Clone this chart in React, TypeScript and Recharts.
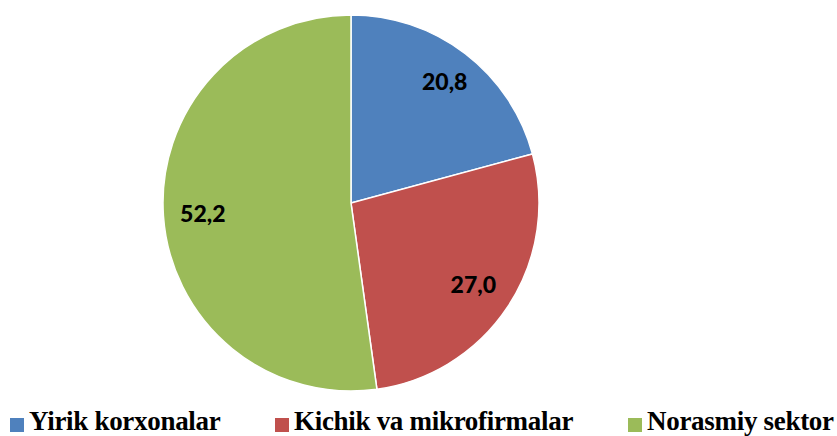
import React from 'react';
import { PieChart, Pie, Cell, Legend } from 'recharts';

const categories = ['Yirik korxonalar', 'Kichik va mikrofirmalar', 'Norasmiy sektor'];
const shares = [20.8, 27.0, 52.2];

const COLORS = ['#4F81BD', '#C0504D', '#9BBB59'];
// label distance from centre as a share of the radius
const LABEL_RADIUS = [0.82, 0.78, 0.79];
// left edge of each legend marker
const LEGEND_X = [10, 275, 628];

const RADIAN = Math.PI / 180;

const renderLabel = (props: any) => {
  const { cx, cy, midAngle, outerRadius, index, value } = props;
  const r = outerRadius * LABEL_RADIUS[index];
  const x = cx + r * Math.cos(-midAngle * RADIAN);
  const y = cy + r * Math.sin(-midAngle * RADIAN);
  return (
    <text
      x={x}
      y={y}
      fill="#000"
      textAnchor="middle"
      dominantBaseline="central"
      style={{ fontFamily: 'Lato, "Open Sans", sans-serif', fontWeight: 900, fontSize: 23 }}
    >
      {value.toFixed(1).replace('.', ',')}
    </text>
  );
};

const renderLegend = () => (
  <div style={{ position: 'relative', width: 837, height: 36 }}>
    {categories.map((name, i) => (
      <div
        key={name}
        style={{ position: 'absolute', left: LEGEND_X[i], top: 0, display: 'flex', alignItems: 'flex-start' }}
      >
        <div style={{ width: 14, height: 14, backgroundColor: COLORS[i], marginTop: 14, marginRight: 5 }} />
        <span
          style={{
            fontFamily: '"Liberation Serif", "Times New Roman", serif',
            fontWeight: 700,
            fontSize: 27,
            letterSpacing: -0.3,
            lineHeight: '35px',
            color: '#000',
            whiteSpace: 'nowrap',
          }}
        >
          {name}
        </span>
      </div>
    ))}
  </div>
);

const App: React.FC = () => {
  const data = categories.map((name, i) => ({ name, value: shares[i] }));
  return (
    <div style={{ position: 'absolute', left: 0, top: 0, width: 837, height: 436, background: '#fff', overflow: 'hidden' }}>
      <PieChart width={837} height={436} margin={{ top: 0, right: 0, bottom: 0, left: 0 }}>
        <Pie
          data={data}
          dataKey="value"
          cx={351}
          cy={203}
          outerRadius={188}
          startAngle={90}
          endAngle={-270}
          stroke="#fff"
          strokeWidth={1.5}
          label={renderLabel}
          labelLine={false}
          isAnimationActive={false}
        >
          {data.map((_, i) => (
            <Cell key={`cell-${i}`} fill={COLORS[i]} />
          ))}
        </Pie>
        <Legend
          content={renderLegend}
          wrapperStyle={{ position: 'absolute', left: 0, top: 404, width: 837, height: 36 }}
        />
      </PieChart>
    </div>
  );
};

export default App;
